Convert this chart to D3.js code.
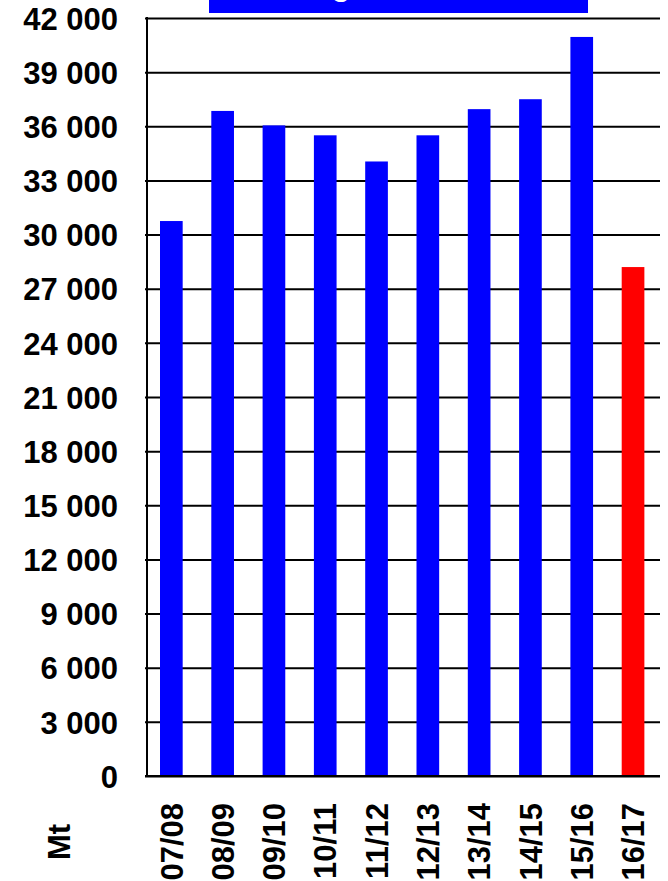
<!DOCTYPE html>
<html>
<head>
<meta charset="utf-8">
<script src="https://cdn.jsdelivr.net/npm/d3@7"></script>
<style>
  html, body { margin: 0; padding: 0; background: #fff; }
  svg { display: block; }
  text { font-family: "Liberation Sans", Arial, sans-serif; font-weight: bold; fill: #000; }
</style>
</head>
<body>
<div id="chart"></div>
<script>
// seasons and tonnage (Mt)
const seasons = ['07/08', '08/09', '09/10', '10/11', '11/12', '12/13', '13/14', '14/15', '15/16', '16/17'];
const tonnage = [30750, 36850, 36050, 35500, 34050, 35500, 36950, 37500, 40950, 28200];
const estimateSeason = '16/17';
const yTicks = [0, 3000, 6000, 9000, 12000, 15000, 18000, 21000, 24000, 27000, 30000, 33000, 36000, 39000, 42000];
const unitLabel = 'Mt';

const width = 668, height = 881;
const plot = { left: 147, right: 660, top: 18, bottom: 776 };

const svg = d3.select('#chart')
  .append('svg')
  .attr('width', width)
  .attr('height', height);

// title box, cut at the top edge of the picture
svg.append('rect')
  .attr('x', 209).attr('y', 0)
  .attr('width', 379).attr('height', 13)
  .attr('fill', '#0000ff');
svg.append('text')
  .attr('x', 341).attr('y', -5)
  .attr('text-anchor', 'middle')
  .style('font-size', '31px')
  .style('fill', '#fff')
  .text('g');

const y = d3.scaleLinear()
  .domain([0, 42000])
  .range([plot.bottom, plot.top]);

// bars sit a bit left of the band centre
const step = (plot.right - plot.left) / seasons.length;
const x = d3.scaleBand()
  .domain(seasons)
  .range([plot.left + 13, plot.left + 13 + step * (seasons.length - 0.558)])
  .paddingInner(0.558)
  .paddingOuter(0);

const fmt = d3.formatLocale({ decimal: ',', thousands: ' ', grouping: [3], currency: ['', ''] }).format(',');

const yAxis = svg.append('g')
  .attr('transform', `translate(${plot.left},0)`)
  .call(d3.axisLeft(y)
    .tickValues(yTicks)
    .tickFormat(fmt)
    .tickSize(-(plot.right - plot.left))
    .tickSizeOuter(0)
    .tickPadding(29));

yAxis.select('.domain').remove();
yAxis.selectAll('.tick line')
  .attr('x1', -2)
  .attr('stroke', '#000')
  .attr('stroke-width', 2);
yAxis.selectAll('.tick text')
  .attr('dy', '0.36em')
  .style('font-size', '31px')
  .style('font-family', '"Liberation Sans", Arial, sans-serif')
  .style('font-weight', 'bold');

// bars
svg.append('g')
  .selectAll('rect')
  .data(seasons)
  .join('rect')
  .attr('x', d => x(d))
  .attr('width', x.bandwidth())
  .attr('y', (d, i) => y(tonnage[i]))
  .attr('height', (d, i) => y(0) - y(tonnage[i]))
  .attr('fill', d => d === estimateSeason ? '#ff0000' : '#0000ff');

// left axis line and base line
svg.append('line')
  .attr('x1', plot.left).attr('x2', plot.left)
  .attr('y1', plot.top - 1).attr('y2', plot.bottom + 1)
  .attr('stroke', '#000').attr('stroke-width', 2);
svg.append('line')
  .attr('x1', plot.left - 2).attr('x2', plot.right)
  .attr('y1', y(0)).attr('y2', y(0))
  .attr('stroke', '#000').attr('stroke-width', 2);

// season labels, rotated
svg.append('g')
  .selectAll('text')
  .data(seasons)
  .join('text')
  .attr('transform', d => `translate(${x(d) + x.bandwidth() / 2},803) rotate(-90)`)
  .attr('dy', '0.36em')
  .attr('text-anchor', 'end')
  .style('font-size', '31px')
  .text(d => d);

svg.append('text')
  .attr('transform', 'translate(59,842) rotate(-90)')
  .attr('dy', '0.36em')
  .attr('text-anchor', 'middle')
  .style('font-size', '31px')
  .text(unitLabel);
</script>
</body>
</html>
